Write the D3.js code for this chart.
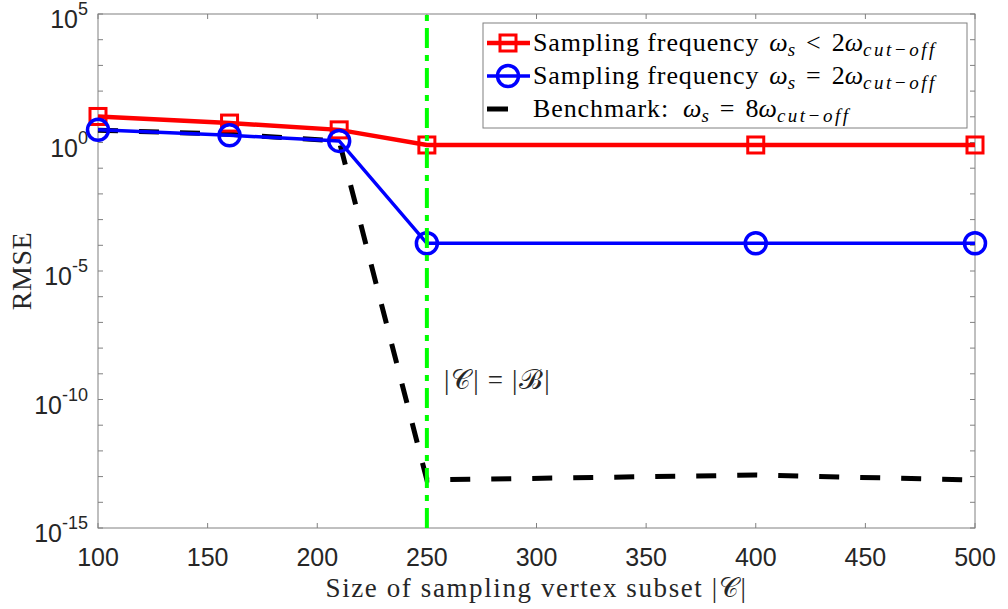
<!DOCTYPE html>
<html>
<head>
<meta charset="utf-8">
<script src="https://cdn.jsdelivr.net/npm/d3@7"></script>
<style>
  body { margin: 0; background: #fff; }
  svg { display: block; }
</style>
</head>
<body>
<div id="chart"></div>
<script>
// data
const sampleSizes = [100, 160, 210, 250, 400, 500];
const rmseUnder = [10.3, 5.7, 3.1, 0.8, 0.8, 0.8];          // ws < 2wc
const rmseNyquist = [3.1, 1.9, 1.15, 1.2e-4, 1.2e-4, 1.2e-4]; // ws = 2wc
const rmseBenchmark = [3.0, 2.1, 1.15, 7.4e-14, 1.15e-13, 7.4e-14]; // ws = 8wc
const xTicks = [100, 150, 200, 250, 300, 350, 400, 450, 500];
const yTickExps = d3.range(-15, 6);        // tick every decade
const yLabelExps = [5, 0, -5, -10, -15];   // labelled decades
const boundary = 250;                       // |C| = |B|

const width = 1008, height = 609;
const margin = { top: 14, right: 33, bottom: 81, left: 98 };
const axisColor = '#808080', textColor = '#262626';
const sansFont = '"Liberation Sans", Arial, sans-serif';
const serifFont = '"Liberation Serif", "Times New Roman", serif';

const svg = d3.select('#chart').append('svg')
  .attr('width', width)
  .attr('height', height);

const x = d3.scaleLinear().domain([100, 500]).range([margin.left, width - margin.right]);
const y = d3.scaleLog().domain([1e-15, 1e5]).range([height - margin.bottom, margin.top]);

const [x0, x1] = x.range();
const [y0, y1] = y.range(); // y0 bottom, y1 top

// box
svg.append('rect')
  .attr('x', x0).attr('y', y1)
  .attr('width', x1 - x0).attr('height', y0 - y1)
  .attr('fill', 'none').attr('stroke', axisColor).attr('stroke-width', 1);

// ticks (inside, on all four sides)
const tickLen = 5;
const tg = svg.append('g').attr('stroke', axisColor).attr('stroke-width', 1);
xTicks.forEach(t => {
  tg.append('line').attr('x1', x(t)).attr('x2', x(t)).attr('y1', y0).attr('y2', y0 - tickLen);
  tg.append('line').attr('x1', x(t)).attr('x2', x(t)).attr('y1', y1).attr('y2', y1 + tickLen);
});
yTickExps.forEach(e => {
  const v = Math.pow(10, e);
  tg.append('line').attr('x1', x0).attr('x2', x0 + tickLen).attr('y1', y(v)).attr('y2', y(v));
  tg.append('line').attr('x1', x1).attr('x2', x1 - tickLen).attr('y1', y(v)).attr('y2', y(v));
});

// x tick labels
svg.append('g').selectAll('text').data(xTicks).join('text')
  .attr('x', d => x(d))
  .attr('y', y0 + 38)
  .attr('text-anchor', 'middle')
  .attr('font-family', sansFont)
  .attr('font-size', 25)
  .attr('fill', textColor)
  .text(d => d);

// y tick labels 10^e
const yl = svg.append('g').selectAll('text').data(yLabelExps).join('text')
  .attr('x', x0 - 10)
  .attr('y', d => y(Math.pow(10, d)) + 14)
  .attr('text-anchor', 'end')
  .attr('font-family', sansFont)
  .attr('font-size', 25)
  .attr('fill', textColor);
yl.append('tspan').text('10');
yl.append('tspan').attr('dy', -13).attr('font-size', 18).text(d => String(d));

// axis labels
const xLab = svg.append('text')
  .attr('x', (x0 + x1) / 2)
  .attr('y', 597)
  .attr('text-anchor', 'middle')
  .attr('font-family', serifFont)
  .attr('font-size', 27)
  .attr('letter-spacing', 1.6)
  .attr('fill', textColor);
xLab.append('tspan').text('Size of sampling vertex subset |');
xLab.append('tspan').text('𝒞');
xLab.append('tspan').text('|');

svg.append('text')
  .attr('transform', `translate(31,${(y0 + y1) / 2}) rotate(-90)`)
  .attr('text-anchor', 'middle')
  .attr('font-family', serifFont)
  .attr('font-size', 28)
  .attr('letter-spacing', 0.5)
  .attr('fill', textColor)
  .text('RMSE');

const line = d3.line().x(d => x(d[0])).y(d => y(d[1]));
const zip = vals => sampleSizes.map((s, i) => [s, vals[i]]);

// benchmark (black dashed)
svg.append('path')
  .attr('d', line(zip(rmseBenchmark)))
  .attr('fill', 'none').attr('stroke', '#000').attr('stroke-width', 5)
  .attr('stroke-dasharray', '20,21');

// under-sampled (red squares)
svg.append('path')
  .attr('d', line(zip(rmseUnder)))
  .attr('fill', 'none').attr('stroke', '#ff0000').attr('stroke-width', 4.5);
svg.append('g').selectAll('rect').data(zip(rmseUnder)).join('rect')
  .attr('x', d => x(d[0]) - 8).attr('y', d => y(d[1]) - 8)
  .attr('width', 16).attr('height', 16)
  .attr('fill', 'none').attr('stroke', '#ff0000').attr('stroke-width', 3);

// nyquist (blue circles)
svg.append('path')
  .attr('d', line(zip(rmseNyquist)))
  .attr('fill', 'none').attr('stroke', '#0000ff').attr('stroke-width', 3.5);
svg.append('g').selectAll('circle').data(zip(rmseNyquist)).join('circle')
  .attr('cx', d => x(d[0])).attr('cy', d => y(d[1]))
  .attr('r', 10.5)
  .attr('fill', 'none').attr('stroke', '#0000ff').attr('stroke-width', 3.5);

// boundary line (green dash-dot), drawn over the series
svg.append('line')
  .attr('x1', x(boundary)).attr('x2', x(boundary))
  .attr('y1', y0).attr('y2', y1)
  .attr('stroke', '#00ff00').attr('stroke-width', 4)
  .attr('stroke-dasharray', '20,7,6,7');

// annotation |C| = |B|
const ann = svg.append('text')
  .attr('x', x(boundary) + 17)
  .attr('y', 389)
  .attr('font-family', serifFont)
  .attr('font-size', 27)
  .attr('fill', textColor);
ann.append('tspan').text('|');
ann.append('tspan').attr('dx', 2).text('𝒞');
ann.append('tspan').attr('dx', 2).text('|');
ann.append('tspan').attr('dx', 9).text('=');
ann.append('tspan').attr('dx', 9).text('|');
ann.append('tspan').attr('dx', 2).text('ℬ');
ann.append('tspan').attr('dx', 2).text('|');

// legend
const lg = svg.append('g');
lg.append('rect')
  .attr('x', 483).attr('y', 23).attr('width', 484).attr('height', 105)
  .attr('fill', '#fff').attr('stroke', axisColor).attr('stroke-width', 1);

const legendItems = [
  { color: '#ff0000', marker: 'square', width: 4.5, rel: '<', k: '2' },
  { color: '#0000ff', marker: 'circle', width: 3.5, rel: '=', k: '2' },
  { color: '#000', marker: null, width: 5, rel: '=', k: '8', bench: true }
];
const rowY = [43, 76, 109];
legendItems.forEach((it, i) => {
  const cy = rowY[i];
  const g = lg.append('g');
  g.append('line').attr('x1', 487).attr('x2', it.bench ? 508 : 530).attr('y1', cy).attr('y2', cy)
    .attr('stroke', it.color).attr('stroke-width', it.width);
  if (it.marker === 'square') {
    g.append('rect').attr('x', 500).attr('y', cy - 8).attr('width', 16).attr('height', 16)
      .attr('fill', 'none').attr('stroke', it.color).attr('stroke-width', 3);
  } else if (it.marker === 'circle') {
    g.append('circle').attr('cx', 508).attr('cy', cy).attr('r', 10.5)
      .attr('fill', 'none').attr('stroke', it.color).attr('stroke-width', 3.5);
  }
  const t = g.append('text')
    .attr('x', 533).attr('y', cy + 8)
    .attr('font-family', serifFont).attr('font-size', 26).attr('fill', '#000');
  t.append('tspan').attr('letter-spacing', 0.9).text(it.bench ? 'Benchmark:' : 'Sampling frequency');
  t.append('tspan').attr('dx', it.bench ? 14 : 10).attr('font-style', 'italic').text('ω');
  t.append('tspan').attr('font-style', 'italic').attr('font-size', 19).attr('dy', 5).text('s');
  t.append('tspan').attr('dy', -5).attr('dx', 11).text(it.rel);
  t.append('tspan').attr('dx', 11).text(it.k);
  t.append('tspan').attr('font-style', 'italic').text('ω');
  t.append('tspan').attr('font-style', 'italic').attr('font-size', 19).attr('dy', 5)
    .attr('letter-spacing', 2.5).text('cut−off');
});
</script>
</body>
</html>
